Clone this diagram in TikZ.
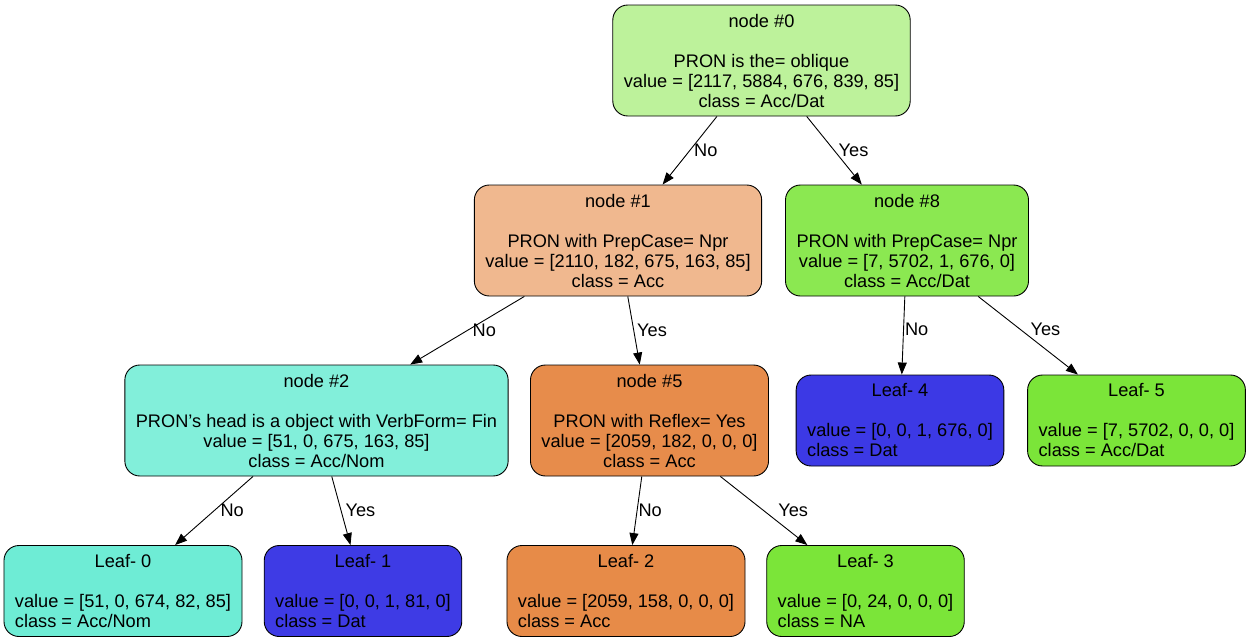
\documentclass[tikz,border=0pt]{standalone}
\usepackage{fontspec}
\setmainfont{Liberation Sans}
\usepackage{xcolor}
\usetikzlibrary{arrows.meta, positioning}

\definecolor{colnode0}{RGB}{189,242,155}
\definecolor{colnode1}{RGB}{240,184,143}
\definecolor{colnode8}{RGB}{139,232,81}
\definecolor{colnode2}{RGB}{130,239,218}
\definecolor{colnode5}{RGB}{231,140,75}
\definecolor{colleaf0}{RGB}{110,236,213}
\definecolor{colleaf1}{RGB}{62,59,229}
\definecolor{colleaf2}{RGB}{231,139,72}
\definecolor{colleaf3}{RGB}{123,229,57}
\definecolor{colleaf4}{RGB}{60,57,229}
\definecolor{colleaf5}{RGB}{123,229,57}

\newcommand{\splitlabel}[4]{\raisebox{-2.5pt}[\height][\depth]{\begin{tabular}{@{}c@{}}#1\\ \\ #2\\ #3\\ #4\end{tabular}}}
\newcommand{\leaflabel}[3]{\raisebox{-2pt}[\height][\depth]{\begin{tabular}{@{}l@{}}\multicolumn{1}{@{}c@{}}{#1}\\ \\ #2\\ #3\end{tabular}}}

\tikzset{
    treenode/.style={rectangle, draw, rounded corners=15pt, line width=0.9pt, inner xsep=11pt, inner ysep=5.5pt},
    edgelabel/.style={anchor=west, inner sep=0pt},
    treeedge/.style={line width=0.9pt, -{Triangle[length=12pt, width=9pt]}}
}

\begin{document}
\begin{tikzpicture}[x=1pt, y=-1pt,
    every node/.style={font=\fontsize{18.2pt}{20pt}\selectfont}]
    \useasboundingbox (0,0) rectangle (1250,643);
    % splits
    \node[treenode, fill=colnode0] (n0) at (761.5,60.5) {\splitlabel{node \#0}{PRON is the= oblique}{value = [2117, 5884, 676, 839, 85]}{class = Acc/Dat}};
    \node[treenode, fill=colnode1] (n1) at (618,240.5) {\splitlabel{node \#1}{PRON with PrepCase= Npr}{value = [2110, 182, 675, 163, 85]}{class = Acc}};
    \node[treenode, fill=colnode8] (n8) at (907,240.5) {\splitlabel{node \#8}{PRON with PrepCase= Npr}{value = [7, 5702, 1, 676, 0]}{class = Acc/Dat}};
    \node[treenode, fill=colnode2] (n2) at (316.5,420.5) {\splitlabel{node \#2}{PRON's head is a object with VerbForm= Fin}{value = [51, 0, 675, 163, 85]}{class = Acc/Nom}};
    \node[treenode, fill=colnode5] (n5) at (649.5,420.5) {\splitlabel{node \#5}{PRON with Reflex= Yes}{value = [2059, 182, 0, 0, 0]}{class = Acc}};
    % leaves
    \node[treenode, fill=colleaf4] (l4) at (900,420.5) {\leaflabel{Leaf- 4}{value = [0, 0, 1, 676, 0]}{class = Dat}};
    \node[treenode, fill=colleaf5] (l5) at (1136.5,420.5) {\leaflabel{Leaf- 5}{value = [7, 5702, 0, 0, 0]}{class = Acc/Dat}};
    \node[treenode, fill=colleaf0] (l0) at (123,591) {\leaflabel{Leaf- 0}{value = [51, 0, 674, 82, 85]}{class = Acc/Nom}};
    \node[treenode, fill=colleaf1] (l1) at (363,591) {\leaflabel{Leaf- 1}{value = [0, 0, 1, 81, 0]}{class = Dat}};
    \node[treenode, fill=colleaf2] (l2) at (626,591) {\leaflabel{Leaf- 2}{value = [2059, 158, 0, 0, 0]}{class = Acc}};
    \node[treenode, fill=colleaf3] (l3) at (865.5,591) {\leaflabel{Leaf- 3}{value = [0, 24, 0, 0, 0]}{class = NA}};

    \draw[treeedge] (n0) -- node[edgelabel, xshift=4pt] {No} (n1);
    \draw[treeedge] (n0) -- node[edgelabel, xshift=4pt] {Yes} (n8);
    \draw[treeedge] (n1) -- node[edgelabel, xshift=5pt] {No} (n2);
    \draw[treeedge] (n1) -- node[edgelabel, xshift=3pt] {Yes} (n5);
    \draw[treeedge] (n8) -- node[edgelabel, pos=0.42, xshift=1pt] {No} (l4);
    \draw[treeedge] (n8) -- node[edgelabel, pos=0.42, xshift=10pt] {Yes} (l5);
    \draw[treeedge] (n2) -- node[edgelabel, xshift=6pt] {No} (l0);
    \draw[treeedge] (n2) -- node[edgelabel, xshift=4pt] {Yes} (l1);
    \draw[treeedge] (n5) -- node[edgelabel, xshift=1pt] {No} (l2);
    \draw[treeedge] (n5) -- node[edgelabel, xshift=14pt] {Yes} (l3);
\end{tikzpicture}
\end{document}
